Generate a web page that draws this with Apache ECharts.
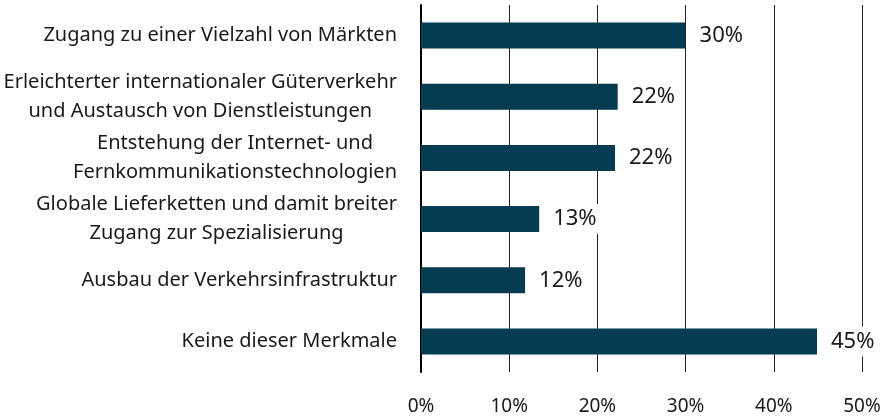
<!DOCTYPE html>
<html>
<head>
<meta charset="utf-8">
<script src="https://cdn.jsdelivr.net/npm/echarts@6/dist/echarts.min.js"></script>
<style>
    html, body { margin: 0; padding: 0; background: #fff; }
    #chart { width: 886px; height: 417px; }
</style>
</head>
<body>
<div id="chart"></div>
<script>
// Kategorien (von oben nach unten)
const categories = [
    'Zugang zu einer Vielzahl von Märkten',
    'Erleichterter internationaler Güterverkehr\nund Austausch von Dienstleistungen',
    'Entstehung der Internet- und\nFernkommunikationstechnologien',
    'Globale Lieferketten und damit breiter\nZugang zur Spezialisierung',
    'Ausbau der Verkehrsinfrastruktur',
    'Keine dieser Merkmale'
]
// Anteile in %
const shares = [30, 22.3, 22, 13.4, 11.8, 44.9]
const xTicks = [0, 10, 20, 30, 40, 50]

const fontFamily = 'Noto Sans'
const barColor = '#053c52'

const chart = echarts.init(document.getElementById('chart'))
chart.setOption({
    animation: false,
    grid: {
        left: 421,
        right: 24,
        top: 5,
        bottom: 45
    },
    xAxis: {
        type: 'value',
        min: xTicks[0],
        max: xTicks[xTicks.length - 1],
        interval: 10,
        axisLine: { show: false },
        axisTick: { show: false },
        splitLine: {
            show: true,
            lineStyle: { color: '#222', width: 1 }
        },
        axisLabel: {
            margin: 25,
            color: '#1a1a1a',
            fontFamily: fontFamily,
            fontSize: 19,
            formatter: v => v + '%'
        }
    },
    yAxis: {
        type: 'category',
        inverse: true,
        data: categories,
        axisLine: { show: true, lineStyle: { color: '#000', width: 2 } },
        axisTick: { show: false },
        axisLabel: {
            margin: 24,
            color: '#1a1a1a',
            fontFamily: fontFamily,
            fontSize: 20,
            lineHeight: 29,
            formatter: v => v.split('\n').map(l => '{c|' + l + '}').join('\n'),
            rich: {
                c: {
                    align: 'center',
                    fontFamily: fontFamily,
                    fontSize: 20,
                    lineHeight: 29,
                    color: '#1a1a1a'
                }
            }
        }
    },
    series: [{
        type: 'bar',
        data: shares,
        barWidth: 26,
        itemStyle: { color: barColor },
        label: {
            show: true,
            position: 'right',
            distance: 12,
            color: '#1a1a1a',
            fontFamily: fontFamily,
            fontSize: 22,
            backgroundColor: '#fff',
            padding: [4, 2],
            formatter: p => Math.round(p.value) + '%'
        }
    }]
})
</script>
</body>
</html>
